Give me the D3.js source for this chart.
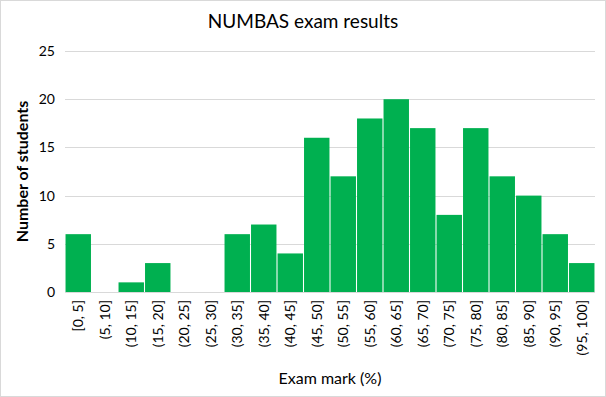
<!DOCTYPE html>
<html>
<head>
<meta charset="utf-8">
<script src="https://cdn.jsdelivr.net/npm/d3@7"></script>
<style>
  body { margin: 0; background: #fff; }
  text { font-family: Lato, "Open Sans", sans-serif; fill: #000; }
</style>
</head>
<body>
<svg id="chart" width="606" height="397"></svg>
<script>
'use strict';

// bins and counts
var categories = ['[0, 5]', '(5, 10]', '(10, 15]', '(15, 20]', '(20, 25]', '(25, 30]',
  '(30, 35]', '(35, 40]', '(40, 45]', '(45, 50]', '(50, 55]', '(55, 60]', '(60, 65]',
  '(65, 70]', '(70, 75]', '(75, 80]', '(80, 85]', '(85, 90]', '(90, 95]', '(95, 100]'];
var counts = [6, 0, 1, 3, 0, 0, 6, 7, 4, 16, 12, 18, 20, 17, 8, 17, 12, 10, 6, 3];
var yTicks = [0, 5, 10, 15, 20, 25];

var svg = d3.select('#chart');
var W = 606, H = 397;
var m = { left: 65, right: 11, top: 51, bottom: 105 };

// outer border
svg.append('rect')
    .attr('x', 0.5).attr('y', 0.5)
    .attr('width', W - 1).attr('height', H - 1)
    .attr('fill', '#fff').attr('stroke', '#d9d9d9');

var x = d3.scaleBand()
    .domain(categories)
    .range([m.left, W - m.right])
    .paddingInner(0.04).paddingOuter(0.02);

var y = d3.scaleLinear()
    .domain([0, 25])
    .range([H - m.bottom, m.top]);

// gridlines
svg.append('g').selectAll('line')
    .data(yTicks.slice(1))
    .join('line')
    .attr('x1', m.left).attr('x2', W - m.right)
    .attr('y1', function(d) { return Math.round(y(d)) + 0.5; })
    .attr('y2', function(d) { return Math.round(y(d)) + 0.5; })
    .attr('stroke', '#d9d9d9');

// bars
svg.append('g').selectAll('rect')
    .data(counts)
    .join('rect')
    .attr('x', function(d, i) { return x(categories[i]); })
    .attr('width', x.bandwidth())
    .attr('y', function(d) { return y(d); })
    .attr('height', function(d) { return y(0) - y(d); })
    .attr('fill', '#00b050');

// baseline
svg.append('line')
    .attr('x1', m.left).attr('x2', W - m.right)
    .attr('y1', Math.round(y(0)) + 0.5).attr('y2', Math.round(y(0)) + 0.5)
    .attr('stroke', '#d9d9d9');

// y axis labels
var yAxis = svg.append('g')
    .attr('transform', 'translate(' + (m.left - 10) + ',0)')
    .call(d3.axisLeft(y).tickValues(yTicks).tickSize(0).tickPadding(0));
yAxis.select('.domain').remove();
yAxis.selectAll('text').style('font-size', '14px').attr('fill', '#000');

// x axis labels, rotated
var xAxis = svg.append('g')
    .attr('transform', 'translate(0,' + (H - m.bottom) + ')')
    .call(d3.axisBottom(x).tickSize(0));
xAxis.select('.domain').remove();
xAxis.selectAll('text')
    .style('font-size', '14px')
    .attr('fill', '#000')
    .attr('text-anchor', 'end')
    .attr('dy', '0.35em')
    .attr('transform', 'translate(0,8) rotate(-90)')
    .attr('x', 0).attr('y', 0);

// titles
svg.append('text')
    .attr('x', W / 2).attr('y', 28)
    .attr('text-anchor', 'middle')
    .style('font-size', '19px')
    .text('NUMBAS exam results');

svg.append('text')
    .attr('transform', 'translate(28,' + ((m.top + H - m.bottom) / 2) + ') rotate(-90)')
    .attr('text-anchor', 'middle')
    .style('font-size', '16px')
    .style('font-weight', 'bold')
    .text('Number of students');

svg.append('text')
    .attr('x', (m.left + W - m.right) / 2).attr('y', 384)
    .attr('text-anchor', 'middle')
    .style('font-size', '16px')
    .text('Exam mark (%)');
</script>
</body>
</html>
